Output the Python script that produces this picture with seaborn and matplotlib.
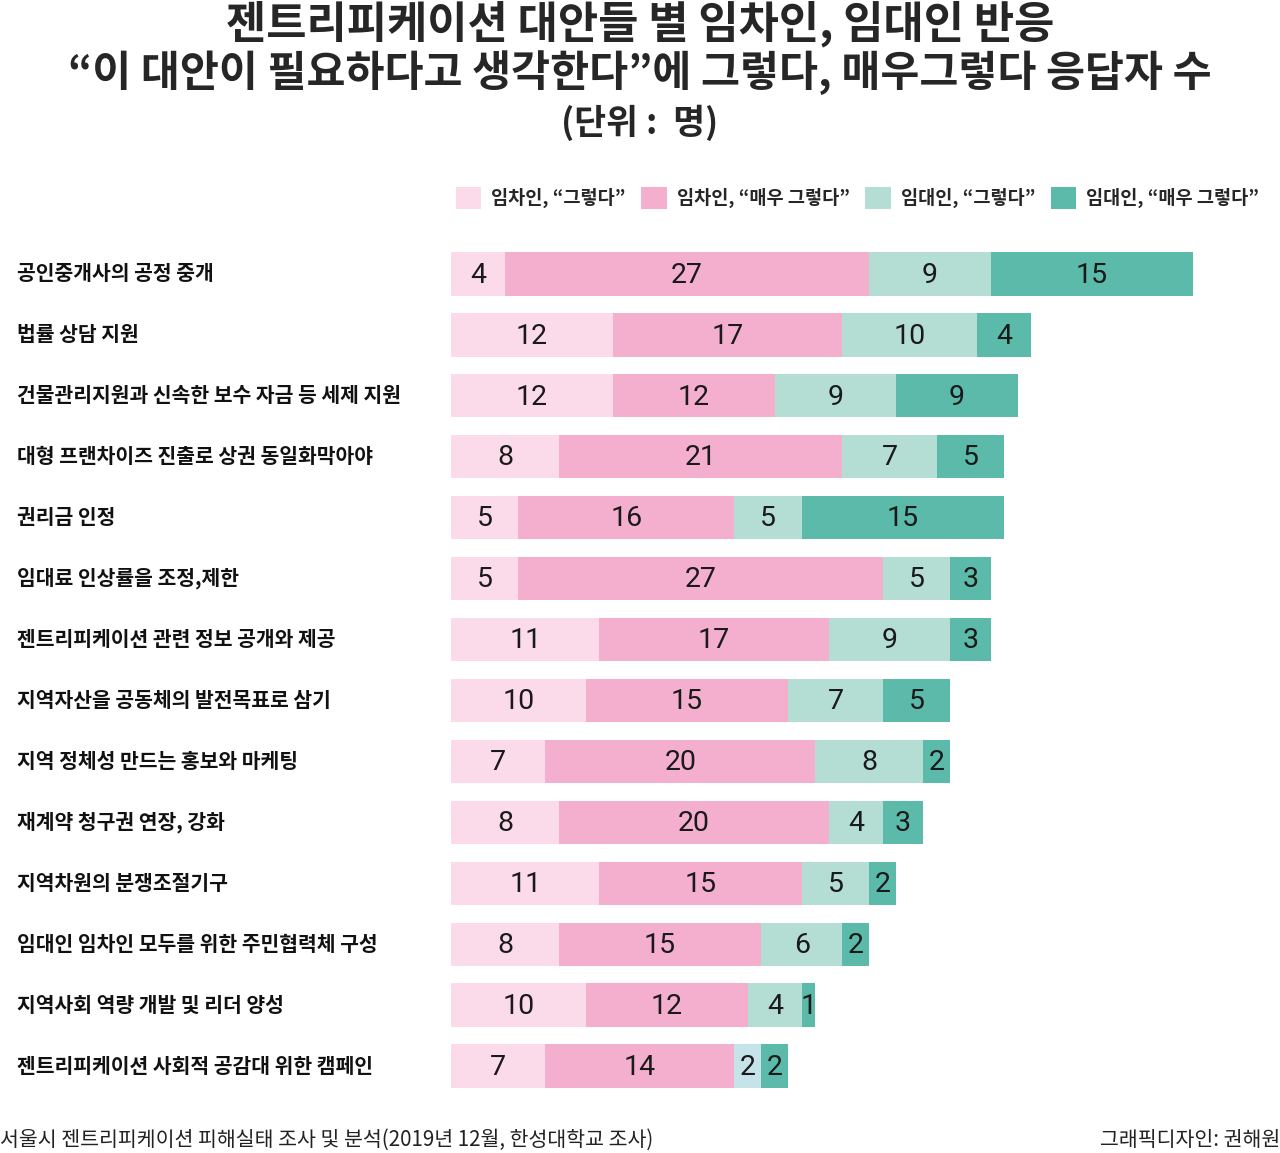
import numpy as np
import pandas as pd
import seaborn as sns
import matplotlib.pyplot as plt
from matplotlib.patches import Patch
from matplotlib.transforms import blended_transform_factory

# 데이터
categories = [
    "공인중개사의 공정 중개",
    "법률 상담 지원",
    "건물관리지원과 신속한 보수 자금 등 세제 지원",
    "대형 프랜차이즈 진출로 상권 동일화막아야",
    "권리금 인정",
    "임대료 인상률을 조정,제한",
    "젠트리피케이션 관련 정보 공개와 제공",
    "지역자산을 공동체의 발전목표로 삼기",
    "지역 정체성 만드는 홍보와 마케팅",
    "재계약 청구권 연장, 강화",
    "지역차원의 분쟁조절기구",
    "임대인 임차인 모두를 위한 주민협력체 구성",
    "지역사회 역량 개발 및 리더 양성",
    "젠트리피케이션 사회적 공감대 위한 캠페인",
]
tenant_yes = [4, 12, 12, 8, 5, 5, 11, 10, 7, 8, 11, 8, 10, 7]
tenant_very = [27, 17, 12, 21, 16, 27, 17, 15, 20, 20, 15, 15, 12, 14]
landlord_yes = [9, 10, 9, 7, 5, 5, 9, 7, 8, 4, 5, 6, 4, 2]
landlord_very = [15, 4, 9, 5, 15, 3, 3, 5, 2, 3, 2, 2, 1, 2]
series_labels = ['임차인, “그렇다”', '임차인, “매우 그렇다”', '임대인, “그렇다”', '임대인, “매우 그렇다”']
colors = ["#fbdbe9", "#f4afce", "#b4ddd4", "#5bbaa9"]

df = pd.DataFrame({
    "category": categories,
    "s1": tenant_yes, "s2": tenant_very, "s3": landlord_yes, "s4": landlord_very,
})
cols = ["s1", "s2", "s3", "s4"]
cum = df[cols].cumsum(axis=1)

sns.set_style("white")
plt.rcParams['font.family'] = ['Noto Sans CJK KR', 'DejaVu Sans']

fig = plt.figure(figsize=(12.8, 11.53), dpi=100)
ax = fig.add_axes([451 / 1280, 1 - 1096.5 / 1153, (1274 - 451) / 1280, (1096.5 - 243.5) / 1153])

# 누적 막대: 긴 것부터 그려 겹치기
for col, c in zip(reversed(cols), reversed(colors)):
    sns.barplot(x=cum[col], y=df["category"], orient="h", color=c, saturation=1,
                width=0.71, linewidth=0, ax=ax)

# 마지막 행의 임대인 "그렇다" 구간은 원본에서 하늘색
ax.containers[1][len(categories) - 1].set_facecolor("#c6e3ea")

ax.set_xlim(0, 61)
ax.set_ylim(len(categories) - 0.5, -0.5)
ax.set_xlabel("")
ax.set_ylabel("")
ax.set_xticks([])
ax.set_yticks([])
sns.despine(ax=ax, left=True, bottom=True)

# 구간 값
for i in range(len(categories)):
    start = 0
    for col in cols:
        v = df.loc[i, col]
        ax.text(start + v / 2, i + 0.02, str(v), ha="center", va="center", fontsize=20.5,
                family=["Roboto", "DejaVu Sans"], fontweight="normal", color="#1a1a1a")
        start += v

# 항목 이름
tr = blended_transform_factory(fig.transFigure, ax.transData)
for i, cat in enumerate(categories):
    ax.text(17 / 1280, i, cat, transform=tr, ha="left", va="center",
            fontsize=14.7, fontweight="bold", color="#111111")

# 범례
handles = [Patch(facecolor=c, edgecolor="none") for c in colors]
fig.legend(handles, series_labels, ncol=4, frameon=False, loc="center right",
           bbox_to_anchor=(1276 / 1280, 1 - 198 / 1153),
           handlelength=1.35, handleheight=1.4, handletextpad=0.55, columnspacing=0.85,
           prop={"weight": "bold", "size": 13.4})

# 제목
fig.text(0.5, 1 - 24 / 1153, "젠트리피케이션 대안들 별 임차인, 임대인 반응",
         ha="center", va="center", fontsize=31.5, fontweight="black")
fig.text(0.5, 1 - 73 / 1153, "“이 대안이 필요하다고 생각한다”에 그렇다, 매우그렇다 응답자 수",
         ha="center", va="center", fontsize=30.5, fontweight="black")
fig.text(0.5, 1 - 123 / 1153, "(단위 :  명)", ha="center", va="center",
         fontsize=25, fontweight="bold")

# 출처
fig.text(0 / 1280, 1 - 1140 / 1153, "서울시 젠트리피케이션 피해실태 조사 및 분석(2019년 12월, 한성대학교 조사)",
         ha="left", va="center", fontsize=14.8, color="#222222")
fig.text(1280 / 1280, 1 - 1140 / 1153, "그래픽디자인: 권해원",
         ha="right", va="center", fontsize=14.8, color="#222222")

fig.savefig("out.png", dpi=100, facecolor="white")
